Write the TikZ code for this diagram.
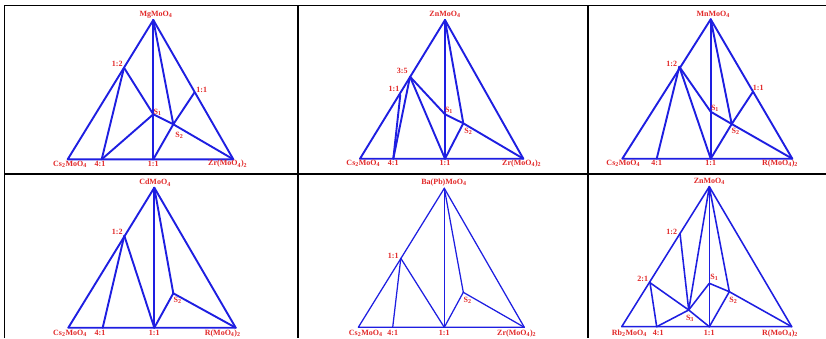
\documentclass[tikz,border=0pt]{standalone}
\usepackage{fontspec}
\setmainfont{Liberation Serif}
\definecolor{lineblue}{RGB}{30,30,225}
\definecolor{labred}{RGB}{225,40,40}
\newcommand{\sbs}[1]{\textsubscript{#1}}
\tikzset{
  tri/.style={draw=lineblue, line width=1.9pt, line join=round, line cap=round},
  trimid/.style={draw=lineblue, line width=1.55pt, line join=round, line cap=round},
  trithin/.style={draw=lineblue, line width=1.25pt, line join=round, line cap=round},
  tbl/.style={draw=black, line width=1.8pt},
  lbl/.style={text=labred, font=\fontsize{8}{9}\selectfont\bfseries, inner sep=0pt},
}
\begin{document}
\begin{tikzpicture}[x=1pt,y=-1pt]
\useasboundingbox (0,0) rectangle (826,338);
% table grid
\draw[tbl] (4.5,338) -- (4.5,5.5) -- (826,5.5);
\draw[tbl] (297.7,5.5) -- (297.7,338);
\draw[tbl] (587.7,5.5) -- (587.7,338);
\draw[tbl] (4.5,173.7) -- (826,173.7);

% ---------- Panel 1 ----------
\coordinate (Aa) at (153.3,20);
\coordinate (Al) at (67.7,159.3);
\coordinate (Ar) at (233.3,159.3);
\coordinate (Af) at (101.7,159.3);
\coordinate (Ao) at (153.3,159.3);
\coordinate (Ae) at (124,67.7);
\coordinate (Ag) at (194.3,92.7);
\coordinate (As1) at (153.3,114.3);
\coordinate (As2) at (173.3,124.3);
\draw[tri] (Aa) -- (Al) -- (Ar) -- cycle;
\draw[tri] (Aa) -- (Ao);
\draw[tri] (Aa) -- (As2);
\draw[tri] (Ae) -- (Af);
\draw[tri] (Ae) -- (As1) -- (As2) -- (Ar);
\draw[tri] (Af) -- (As1);
\draw[tri] (Ao) -- (As2) -- (Ag);
\node[lbl] (LAa) at (156,15) {MgMoO\sbs{4}};
\node[lbl] (LAe) at (117.3,64.3) {1:2};
\node[lbl] (LAg) at (201.7,90) {1:1};
\node[lbl] (LAs1) at (157.7,112.7) {S\sbs{1}};
\node[lbl] (LAs2) at (179.3,135) {S\sbs{2}};
\node[lbl] (LAl) at (70,164) {Cs\sbs{2}MoO\sbs{4}};
\node[lbl] (LAf) at (100,164) {4:1};
\node[lbl] (LAo) at (153.3,164) {1:1};
\node[lbl] (LAr) at (227.7,164) {Zr(MoO\sbs{4})\sbs{2}};

% ---------- Panel 2 ----------
\coordinate (Ba) at (445,20);
\coordinate (Bl) at (360,158.7);
\coordinate (Br) at (523.3,158.7);
\coordinate (Bf) at (393.3,158.7);
\coordinate (Bo) at (445,158.7);
\coordinate (Bt) at (410,76.7);
\coordinate (Bu) at (400.3,95);
\coordinate (Bs1) at (445,114.3);
\coordinate (Bs2) at (463.3,123.3);
\draw[tri] (Ba) -- (Bl) -- (Br) -- cycle;
\draw[tri] (Ba) -- (Bo);
\draw[tri] (Ba) -- (Bs2);
\draw[tri] (Bt) -- (Bf);
\draw[tri] (Bu) -- (Bf);
\draw[tri] (Bt) -- (Bo);
\draw[tri] (Bt) -- (Bs1) -- (Bs2) -- (Br);
\draw[tri] (Bo) -- (Bs2);
\node[lbl] (LBa) at (445,14.3) {ZnMoO\sbs{4}};
\node[lbl] (LBt) at (402.3,70.7) {3:5};
\node[lbl] (LBu) at (394,89.3) {1:1};
\node[lbl] (LBs1) at (449,110.7) {S\sbs{1}};
\node[lbl] (LBs2) at (468.3,131.7) {S\sbs{2}};
\node[lbl] (LBl) at (363.3,163.3) {Cs\sbs{2}MoO\sbs{4}};
\node[lbl] (LBf) at (393.3,163.3) {4:1};
\node[lbl] (LBo) at (445,163.3) {1:1};
\node[lbl] (LBr) at (521.7,163.3) {Zr(MoO\sbs{4})\sbs{2}};

% ---------- Panel 3 ----------
\coordinate (Ca) at (710.7,19.3);
\coordinate (Cl) at (622.3,158.7);
\coordinate (Cr) at (792.3,158.7);
\coordinate (Cf) at (656.7,158.7);
\coordinate (Co) at (710.7,158.7);
\coordinate (Ce) at (679.3,66.7);
\coordinate (Cg) at (753,91.7);
\coordinate (Cs1) at (710.7,111.7);
\coordinate (Cs2) at (731.7,124);
\draw[tri] (Ca) -- (Cl) -- (Cr) -- cycle;
\draw[tri] (Ca) -- (Co);
\draw[tri] (Ca) -- (Cs2);
\draw[tri] (Ce) -- (Cf);
\draw[tri] (Ce) -- (Co);
\draw[tri] (Ce) -- (Cs1) -- (Cs2) -- (Cr);
\draw[tri] (Co) -- (Cs2) -- (Cg);
\node[lbl] (LCa) at (713.3,14) {MnMoO\sbs{4}};
\node[lbl] (LCe) at (671.7,64.3) {1:2};
\node[lbl] (LCg) at (758.3,88.3) {1:1};
\node[lbl] (LCs1) at (715,108.3) {S\sbs{1}};
\node[lbl] (LCs2) at (735.7,131.7) {S\sbs{2}};
\node[lbl] (LCl) at (623.3,163.3) {Cs\sbs{2}MoO\sbs{4}};
\node[lbl] (LCf) at (656.7,163.3) {4:1};
\node[lbl] (LCo) at (710.7,163.3) {1:1};
\node[lbl] (LCr) at (780,163.3) {R(MoO\sbs{4})\sbs{2}};

% ---------- Panel 4 ----------
\coordinate (Da) at (154.3,187.7);
\coordinate (Dl) at (68.3,327.7);
\coordinate (Dr) at (235.7,327.7);
\coordinate (Df) at (102.7,327.7);
\coordinate (Do) at (154.3,327.7);
\coordinate (De) at (124.3,235.7);
\coordinate (Ds2) at (173.3,293.3);
\draw[tri] (Da) -- (Dl) -- (Dr) -- cycle;
\draw[tri] (Da) -- (Do);
\draw[tri] (Da) -- (Ds2);
\draw[tri] (De) -- (Df);
\draw[tri] (De) -- (Do);
\draw[tri] (Do) -- (Ds2) -- (Dr);
\node[lbl] (LDa) at (155,182.7) {CdMoO\sbs{4}};
\node[lbl] (LDe) at (117.3,232.3) {1:2};
\node[lbl] (LDs2) at (177.7,300) {S\sbs{2}};
\node[lbl] (LDl) at (70,333.3) {Cs\sbs{2}MoO\sbs{4}};
\node[lbl] (LDf) at (100,333.3) {4:1};
\node[lbl] (LDo) at (154.3,333.3) {1:1};
\node[lbl] (LDr) at (222.7,333.3) {R(MoO\sbs{4})\sbs{2}};

% ---------- Panel 5 ----------
\coordinate (Ea) at (444.3,188.3);
\coordinate (El) at (358.3,327.3);
\coordinate (Er) at (524.3,327.3);
\coordinate (Ef) at (392.7,327.3);
\coordinate (Eo) at (444.3,327.3);
\coordinate (Eu) at (400.8,258.3);
\coordinate (Es2) at (463.3,292.3);
\draw[trithin] (Ea) -- (El) -- (Er) -- cycle;
\draw[trithin] (Ea) -- (Eo);
\draw[trithin] (Ea) -- (Es2);
\draw[trithin] (Eu) -- (Ef);
\draw[trithin] (Eu) -- (Eo);
\draw[trithin] (Eo) -- (Es2) -- (Er);
\node[lbl] (LEa) at (444,182.3) {Ba(Pb)MoO\sbs{4}};
\node[lbl] (LEu) at (393.3,256) {1:1};
\node[lbl] (LEs2) at (467.7,300.7) {S\sbs{2}};
\node[lbl] (LEl) at (365.7,333.3) {Cs\sbs{2}MoO\sbs{4}};
\node[lbl] (LEf) at (392.7,333.3) {4:1};
\node[lbl] (LEo) at (444.3,333.3) {1:1};
\node[lbl] (LEr) at (516.7,333.3) {Zr(MoO\sbs{4})\sbs{2}};

% ---------- Panel 6 ----------
\coordinate (Fa) at (709.3,186.7);
\coordinate (Fl) at (621.7,326.7);
\coordinate (Fr) at (791.7,326.7);
\coordinate (Ff) at (656.7,326.7);
\coordinate (Fo) at (709.3,326.7);
\coordinate (Fe) at (680,233.3);
\coordinate (Fd) at (650,282.7);
\coordinate (Fs1) at (709.3,283.3);
\coordinate (Fs2) at (729.3,291.7);
\coordinate (Fs3) at (688.7,310);
\draw[trimid] (Fa) -- (Fl) -- (Fr) -- cycle;
\draw[trimid] (Fa) -- (Fo);
\draw[trimid] (Fa) -- (Fs2);
\draw[trimid] (Fa) -- (Fs3);
\draw[trimid] (Fe) -- (Fs3);
\draw[trimid] (Fd) -- (Ff);
\draw[trimid] (Fd) -- (Fs3) -- (Fo);
\draw[trimid] (Ff) -- (Fs3);
\draw[trimid] (Fs3) -- (Fs1) -- (Fs2) -- (Fr);
\draw[trimid] (Fo) -- (Fs2);
\node[lbl] (LFa) at (709.3,181.7) {ZnMoO\sbs{4}};
\node[lbl] (LFe) at (671.7,231.7) {1:2};
\node[lbl] (LFd) at (642.7,279) {2:1};
\node[lbl] (LFs1) at (714.3,277.7) {S\sbs{1}};
\node[lbl] (LFs2) at (733.3,300) {S\sbs{2}};
\node[lbl] (LFs3) at (690,318.3) {S\sbs{3}};
\node[lbl] (LFl) at (629.3,333.3) {Rb\sbs{2}MoO\sbs{4}};
\node[lbl] (LFf) at (658.3,333.3) {4:1};
\node[lbl] (LFo) at (709.3,333.3) {1:1};
\node[lbl] (LFr) at (780,333.3) {R(MoO\sbs{4})\sbs{2}};
\end{tikzpicture}
\end{document}
